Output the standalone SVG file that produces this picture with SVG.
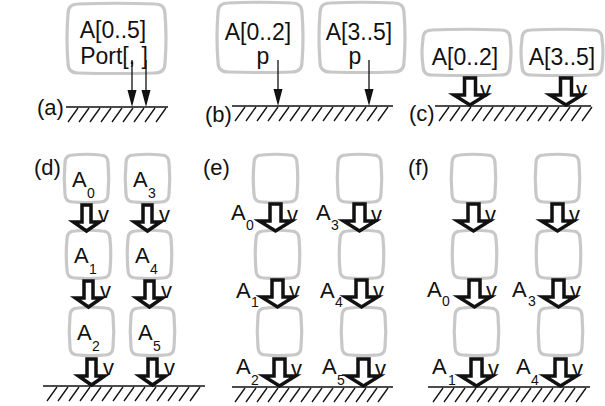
<svg xmlns="http://www.w3.org/2000/svg" xmlns:xlink="http://www.w3.org/1999/xlink" width="605" height="406" viewBox="0 0 605 406">
  <style>
    .box { fill: #fff; stroke: #c8c8c8; stroke-width: 3.2; }
    .txt { font-family: "Liberation Sans", Arial, sans-serif; font-size: 23px; fill: #111; }
    .a { font-family: "Liberation Sans", Arial, sans-serif; font-size: 22px; fill: #111; }
    .v { font-family: "Liberation Sans", Arial, sans-serif; font-size: 22px; fill: #111; }
    .sub { font-family: "Liberation Sans", Arial, sans-serif; font-size: 14px; fill: #111; }
    .lbl { font-family: "Liberation Sans", Arial, sans-serif; font-size: 22px; fill: #111; }
    .ground { stroke: #111; stroke-width: 1.6; fill: none; }
    .hatch { stroke: #111; stroke-width: 1.3; fill: none; }
    .thin { stroke: #111; stroke-width: 1.3; fill: none; }
    .head { fill: #111; }
    .block { fill: #fff; stroke: #111; stroke-width: 3.5; stroke-linejoin: miter; }
  </style>
  <defs>
    <!-- rounded, slightly barrel-shaped boxes -->
    <path id="boxA" d="M10,0 Q48.5,-1.5 87,0 Q97,0 97,10 Q99,34.5 97,59 Q97,69 87,69 Q48.5,70 10,69 Q0,69 0,59 Q-2,34.5 0,10 Q0,0 10,0 Z"/>
    <path id="boxB" d="M10,0 Q42,-1.5 74,0 Q84,0 84,10 Q86,34.5 84,59 Q84,69 74,69 Q42,70 10,69 Q0,69 0,59 Q-2,34.5 0,10 Q0,0 10,0 Z"/>
    <path id="boxC" d="M9,0 Q43.5,-1.5 78,0 Q87,0 87,9 Q89,22.5 87,36 Q87,45 78,45 Q43.5,46 9,45 Q0,45 0,36 Q-2,22.5 0,9 Q0,0 9,0 Z"/>
    <path id="boxC2" d="M9,0 Q40,-1.5 71,0 Q80,0 80,9 Q82,22.5 80,36 Q80,45 71,45 Q40,46 9,45 Q0,45 0,36 Q-2,22.5 0,9 Q0,0 9,0 Z"/>
    <path id="boxS" d="M8,0 Q21.5,-1.5 35,0 Q43,0 43,8 Q44.5,23.5 43,39 Q43,47 35,47 Q21.5,48 8,47 Q0,47 0,39 Q-1.5,23.5 0,8 Q0,0 8,0 Z"/>
    <!-- hollow block arrows, tip at origin -->
    <path id="blk" d="M-5.5,-28 H5.5 V-11 H16 L0,-1 L-16,-11 H-5.5 Z"/>
    <path id="blkS" d="M-4.5,-27 H4.5 V-10 H13 L0,-1 L-13,-10 H-4.5 Z"/>
    <!-- thin arrowhead, tip at origin -->
    <path id="tipHead" d="M-4.5,-17 L4.5,-17 L0,0 Z"/>
  </defs>

  <!-- ground lines with hatching -->
  <g id="grounds">
    <path class="ground" d="M66,107 H168"/>
    <path class="hatch" d="M68,122 l10,-14 m1,14 l10,-14 m1,14 l10,-14 m1,14 l10,-14 m1,14 l10,-14 m1,14 l10,-14 m1,14 l10,-14 m1,14 l10,-14 m1,14 l10,-14"/>
    <path class="ground" d="M232,106 H393"/>
    <path class="hatch" d="M235,121 l10,-14 m1,14 l10,-14 m1,14 l10,-14 m1,14 l10,-14 m1,14 l10,-14 m1,14 l10,-14 m1,14 l10,-14 m1,14 l10,-14 m1,14 l10,-14 m1,14 l10,-14 m1,14 l10,-14 m1,14 l10,-14 m1,14 l10,-14 m1,14 l10,-14"/>
    <path class="ground" d="M435,106 H591"/>
    <path class="hatch" d="M439,121 l10,-14 m1,14 l10,-14 m1,14 l10,-14 m1,14 l10,-14 m1,14 l10,-14 m1,14 l10,-14 m1,14 l10,-14 m1,14 l10,-14 m1,14 l10,-14 m1,14 l10,-14 m1,14 l10,-14 m1,14 l10,-14 m1,14 l10,-14 m1,14 l10,-14"/>
    <path class="ground" d="M43,386 H205"/>
    <path class="hatch" d="M47,401 l10,-14 m1,14 l10,-14 m1,14 l10,-14 m1,14 l10,-14 m1,14 l10,-14 m1,14 l10,-14 m1,14 l10,-14 m1,14 l10,-14 m1,14 l10,-14 m1,14 l10,-14 m1,14 l10,-14 m1,14 l10,-14 m1,14 l10,-14 m1,14 l10,-14"/>
    <path class="ground" d="M232,387 H393"/>
    <path class="hatch" d="M235,402 l10,-14 m1,14 l10,-14 m1,14 l10,-14 m1,14 l10,-14 m1,14 l10,-14 m1,14 l10,-14 m1,14 l10,-14 m1,14 l10,-14 m1,14 l10,-14 m1,14 l10,-14 m1,14 l10,-14 m1,14 l10,-14 m1,14 l10,-14 m1,14 l10,-14"/>
    <path class="ground" d="M428,387 H590"/>
    <path class="hatch" d="M433,402 l10,-14 m1,14 l10,-14 m1,14 l10,-14 m1,14 l10,-14 m1,14 l10,-14 m1,14 l10,-14 m1,14 l10,-14 m1,14 l10,-14 m1,14 l10,-14 m1,14 l10,-14 m1,14 l10,-14 m1,14 l10,-14 m1,14 l10,-14 m1,14 l10,-14"/>
  </g>

  <!-- panel labels -->
  <g id="labels">
    <text class="lbl" x="37" y="115">(a)</text>
    <text class="lbl" x="205" y="122">(b)</text>
    <text class="lbl" x="409" y="121">(c)</text>
    <text class="lbl" x="34" y="175">(d)</text>
    <text class="lbl" x="203" y="175">(e)</text>
    <text class="lbl" x="408" y="175">(f)</text>
  </g>

  <!-- (a) -->
  <g id="a-box">
    <use href="#boxA" class="box" x="68" y="4"/>
    <text class="txt" x="113" y="38" text-anchor="middle">A[0..5]</text>
    <text class="txt" x="114" y="64" text-anchor="middle">Port[, ]</text>
  </g>

  <!-- (b) -->
  <g id="b-box1">
    <use href="#boxB" class="box" x="218" y="3"/>
    <text class="txt" x="258" y="40" text-anchor="middle">A[0..2]</text>
    <text class="txt" x="263" y="64" text-anchor="middle">p</text>
  </g>
  <g id="b-box2">
    <use href="#boxB" class="box" x="320" y="3"/>
    <text class="txt" x="359" y="40" text-anchor="middle">A[3..5]</text>
    <text class="txt" x="355" y="64" text-anchor="middle">p</text>
  </g>

  <!-- (c) -->
  <g id="c-box1">
    <use href="#boxC" class="box" x="423" y="30"/>
    <text class="txt" x="465" y="65" text-anchor="middle">A[0..2]</text>
  </g>
  <g id="c-box2">
    <use href="#boxC2" class="box" x="522" y="30"/>
    <text class="txt" x="562" y="65" text-anchor="middle">A[3..5]</text>
  </g>

  <!-- (d) -->
  <g id="d-A0"><use href="#boxS" class="box" x="65" y="155"/><text class="a" x="72" y="187">A</text><text class="sub" x="87" y="198">0</text></g>
  <g id="d-A3"><use href="#boxS" class="box" x="126" y="155"/><text class="a" x="133" y="187">A</text><text class="sub" x="148" y="198">3</text></g>
  <g id="d-A1"><use href="#boxS" class="box" x="67" y="231"/><text class="a" x="74" y="263">A</text><text class="sub" x="89" y="274">1</text></g>
  <g id="d-A4"><use href="#boxS" class="box" x="128" y="231"/><text class="a" x="135" y="263">A</text><text class="sub" x="150" y="274">4</text></g>
  <g id="d-A2"><use href="#boxS" class="box" x="70" y="308"/><text class="a" x="77" y="340">A</text><text class="sub" x="92" y="351">2</text></g>
  <g id="d-A5"><use href="#boxS" class="box" x="131" y="308"/><text class="a" x="138" y="340">A</text><text class="sub" x="153" y="351">5</text></g>

  <!-- (e) -->
  <g id="e-r1c1"><use href="#boxS" class="box" x="254" y="155"/></g>
  <g id="e-r1c2"><use href="#boxS" class="box" x="338" y="155"/></g>
  <g id="e-r2c1"><use href="#boxS" class="box" x="256" y="231"/></g>
  <g id="e-r2c2"><use href="#boxS" class="box" x="340" y="231"/></g>
  <g id="e-r3c1"><use href="#boxS" class="box" x="258" y="308"/></g>
  <g id="e-r3c2"><use href="#boxS" class="box" x="342" y="308"/></g>

  <!-- (f) -->
  <g id="f-r1c1"><use href="#boxS" class="box" x="452" y="155"/></g>
  <g id="f-r1c2"><use href="#boxS" class="box" x="536" y="155"/></g>
  <g id="f-r2c1"><use href="#boxS" class="box" x="453" y="231"/></g>
  <g id="f-r2c2"><use href="#boxS" class="box" x="537" y="231"/></g>
  <g id="f-r3c1"><use href="#boxS" class="box" x="455" y="308"/></g>
  <g id="f-r3c2"><use href="#boxS" class="box" x="539" y="308"/></g>

  <!-- connectors -->
  <g id="connectors">
    <!-- (a) thin arrows -->
    <path class="thin" d="M132,60 V92 M146,60 V92"/>
    <use href="#tipHead" class="head" x="132" y="107"/>
    <use href="#tipHead" class="head" x="146" y="107"/>
    <!-- (b) thin arrows -->
    <path class="thin" d="M278,60 V91 M369,60 V91"/>
    <use href="#tipHead" class="head" x="278" y="106"/>
    <use href="#tipHead" class="head" x="369" y="106"/>

    <!-- (c) block arrows -->
    <use href="#blk" class="block" x="470" y="106"/>
    <text class="v" x="480" y="97">v</text>
    <use href="#blk" class="block" x="566" y="106"/>
    <text class="v" x="576" y="97">v</text>

    <!-- (d) block arrows -->
    <use href="#blkS" class="block" x="86.5" y="232"/><text class="v" x="98" y="222">v</text>
    <use href="#blkS" class="block" x="147.5" y="232"/><text class="v" x="159" y="222">v</text>
    <use href="#blkS" class="block" x="88.5" y="308"/><text class="v" x="100" y="298">v</text>
    <use href="#blkS" class="block" x="149.5" y="308"/><text class="v" x="161" y="298">v</text>
    <use href="#blkS" class="block" x="91.5" y="386"/><text class="v" x="103" y="375">v</text>
    <use href="#blkS" class="block" x="152.5" y="386"/><text class="v" x="164" y="375">v</text>

    <!-- (e) block arrows with labels -->
    <use href="#blk" class="block" x="275.5" y="232"/><text class="v" x="287" y="222">v</text>
    <text class="a" x="231" y="220">A</text><text class="sub" x="246" y="230">0</text>
    <use href="#blk" class="block" x="359.5" y="232"/><text class="v" x="371" y="222">v</text>
    <text class="a" x="316" y="220">A</text><text class="sub" x="331" y="230">3</text>
    <use href="#blk" class="block" x="277.5" y="308"/><text class="v" x="289" y="298">v</text>
    <text class="a" x="236" y="298">A</text><text class="sub" x="251" y="307">1</text>
    <use href="#blk" class="block" x="361.5" y="308"/><text class="v" x="373" y="298">v</text>
    <text class="a" x="320" y="298">A</text><text class="sub" x="335" y="307">4</text>
    <use href="#blk" class="block" x="279.5" y="387"/><text class="v" x="291" y="376">v</text>
    <text class="a" x="236" y="374">A</text><text class="sub" x="251" y="385">2</text>
    <use href="#blk" class="block" x="363.5" y="387"/><text class="v" x="375" y="376">v</text>
    <text class="a" x="322" y="374">A</text><text class="sub" x="337" y="385">5</text>

    <!-- (f) block arrows with labels -->
    <use href="#blk" class="block" x="473.5" y="232"/><text class="v" x="485" y="222">v</text>
    <use href="#blk" class="block" x="557.5" y="232"/><text class="v" x="569" y="222">v</text>
    <use href="#blk" class="block" x="474.5" y="308"/><text class="v" x="486" y="298">v</text>
    <text class="a" x="427" y="297">A</text><text class="sub" x="442" y="306">0</text>
    <use href="#blk" class="block" x="558.5" y="308"/><text class="v" x="570" y="298">v</text>
    <text class="a" x="512" y="297">A</text><text class="sub" x="528" y="306">3</text>
    <use href="#blk" class="block" x="476.5" y="387"/><text class="v" x="488" y="376">v</text>
    <text class="a" x="432" y="374">A</text><text class="sub" x="448" y="385">1</text>
    <use href="#blk" class="block" x="560.5" y="387"/><text class="v" x="572" y="376">v</text>
    <text class="a" x="516" y="374">A</text><text class="sub" x="531" y="385">4</text>
  </g>
</svg>
